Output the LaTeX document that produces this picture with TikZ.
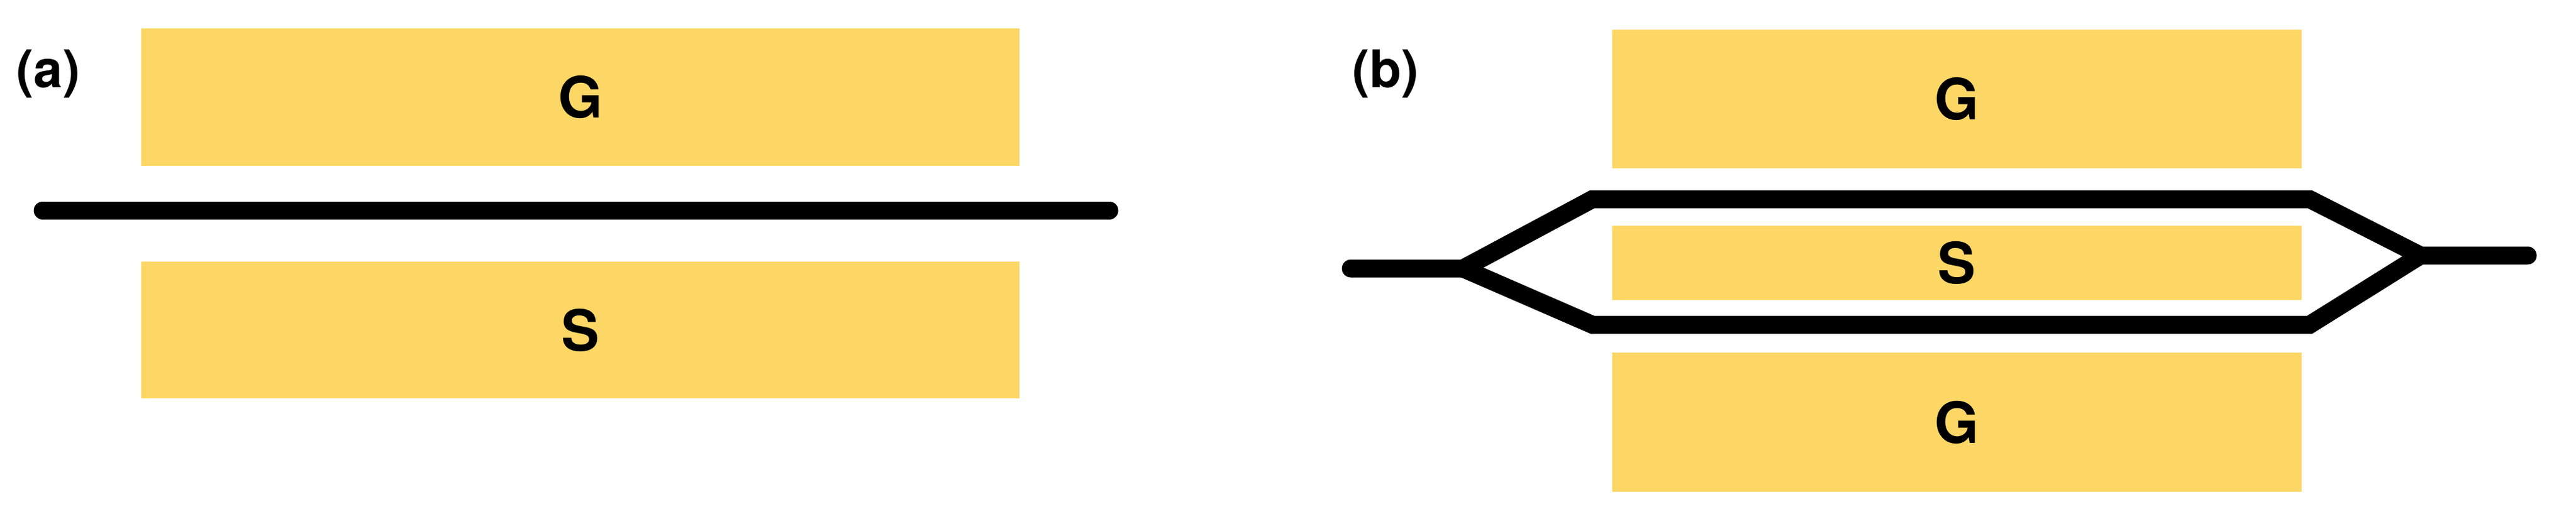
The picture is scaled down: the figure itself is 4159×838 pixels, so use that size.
\documentclass[tikz,border=0pt]{standalone}
\usepackage{fontspec}
\setmainfont{TeX Gyre Heros}
\definecolor{padyellow}{HTML}{FDD766}
\begin{document}
\begin{tikzpicture}[x=0.25pt,y=-0.25pt,
  pad/.style={fill=padyellow, draw=none, inner sep=0pt, text=black,
    font=\fontsize{23}{26}\selectfont\bfseries},
  wire/.style={line width=7.25pt, black, line cap=round, line join=miter},
  lab/.style={font=\fontsize{21}{24}\selectfont\bfseries, inner sep=0pt}]
\useasboundingbox (0,0) rectangle (4159,838);
% panel (a)
\node[lab] (la) at (78,119) {(a)};
\node[pad, minimum width=354.5pt, minimum height=55.5pt] (aG) at (937,157) {G};
\node[pad, minimum width=354.5pt, minimum height=55.25pt] (aS) at (937,533.5) {S};
\coordinate (aL) at (69,340);
\coordinate (aR) at (1791,340);
\draw[wire] (aL) -- (aR);
% panel (b)
\node[lab] (lb) at (2237,119) {(b)};
\node[pad, minimum width=278.25pt, minimum height=56pt] (bG1) at (3159.5,160) {G};
\node[pad, minimum width=278.25pt, minimum height=30pt] (bS) at (3159.5,425) {S};
\node[pad, minimum width=278.25pt, minimum height=56.25pt] (bG2) at (3159.5,682.5) {G};
\coordinate (L0) at (2181,434);
\coordinate (LJ) at (2362,434);
\coordinate (LU) at (2571,322);
\coordinate (LD) at (2571,525);
\coordinate (RU) at (3729,322);
\coordinate (RD) at (3729,525);
\coordinate (RJ) at (3908,413);
\coordinate (R0) at (4081,413);
\draw[wire] (L0) -- (LJ) -- (LU) -- (RU) -- (RJ) -- (R0);
\draw[wire] (LJ) -- (LD) -- (RD) -- (RJ);
\end{tikzpicture}
\end{document}
